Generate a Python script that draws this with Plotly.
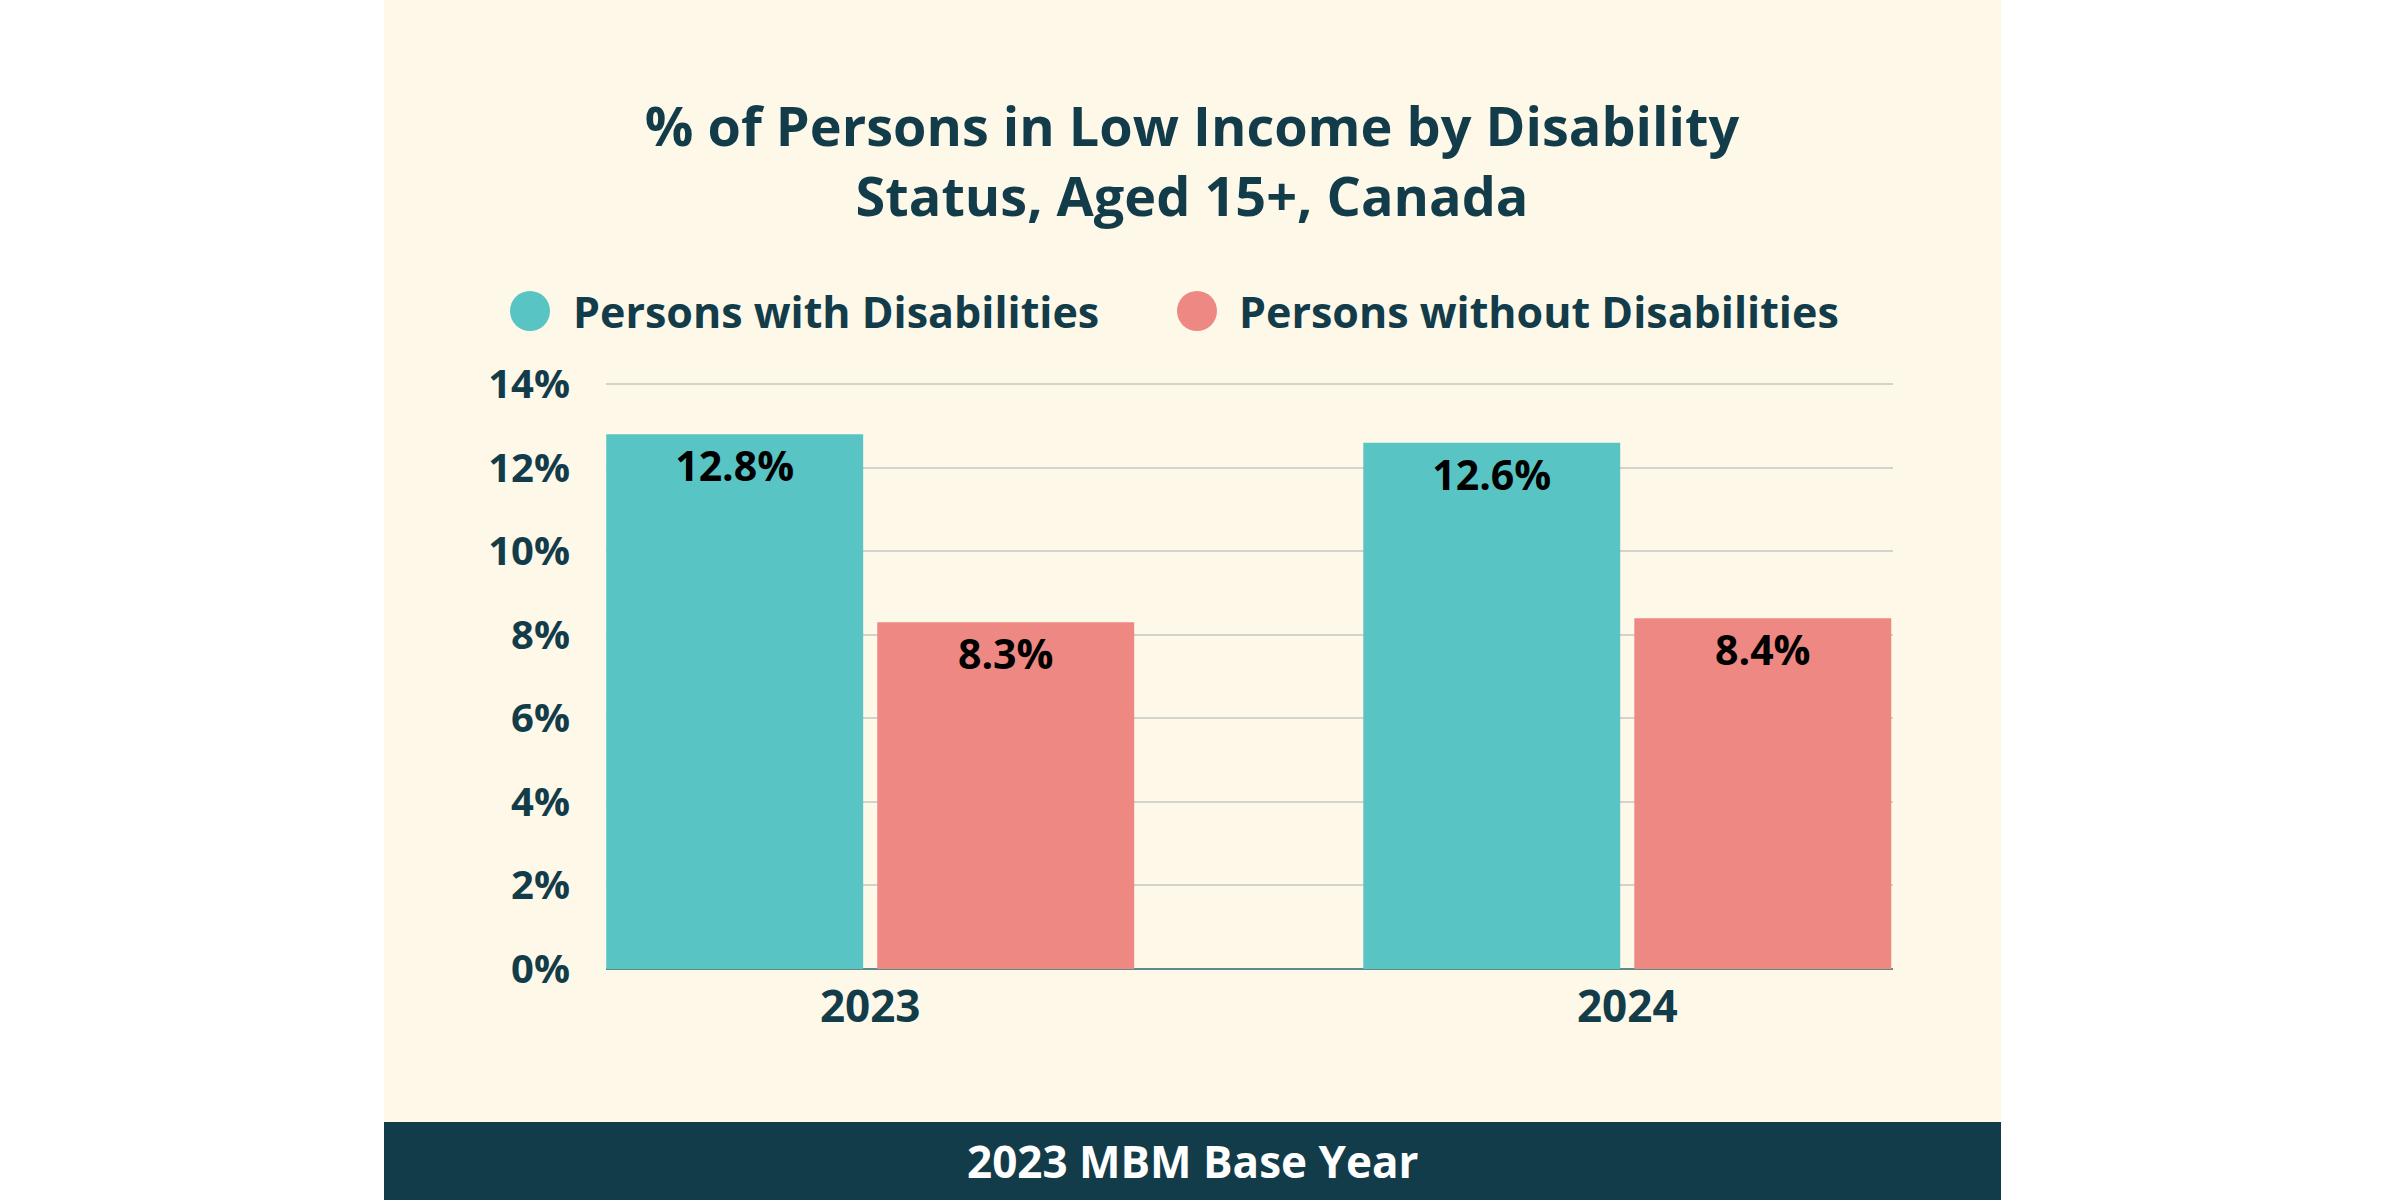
import plotly.graph_objects as go

# Daten
years = ["2023", "2024"]
with_dis = [12.8, 12.6]
without_dis = [8.3, 8.4]
series_names = ["Persons with Disabilities", "Persons without Disabilities"]
y_ticks = [0, 2, 4, 6, 8, 10, 12, 14]
y_ticktext = [f"{v}%" for v in y_ticks]
title_lines = ["% of Persons in Low Income by Disability", "Status, Aged 15+, Canada"]
footer = "2023 MBM Base Year"

# Farben
teal = "#58C4C4"
coral = "#EE8882"
dark = "#133C4A"
cream = "#FEF8E8"
font_family = "Open Sans"

W, H = 2400, 1200

def px_x(x):
    return x / W

def px_y(y):
    return 1 - y / H

fig = go.Figure()
for name, vals, col in [(series_names[0], with_dis, teal), (series_names[1], without_dis, coral)]:
    fig.add_trace(go.Bar(
        x=years,
        y=vals,
        name=name,
        marker=dict(color=col, line=dict(width=0)),
        text=[f"{v:.1f}%" for v in vals],
        textposition="inside",
        insidetextanchor="end",
        textangle=0,
        textfont=dict(family=font_family, size=41, color="black", weight="bold"),
        showlegend=False,
        hoverinfo="x+y",
    ))

shapes = [
    # heller Hintergrund
    dict(type="rect", xref="paper", yref="paper", x0=px_x(384), x1=px_x(2001),
         y0=px_y(1122), y1=1, fillcolor=cream, line=dict(width=0), layer="below"),
    # Fusszeile
    dict(type="rect", xref="paper", yref="paper", x0=px_x(384), x1=px_x(2001),
         y0=0, y1=px_y(1122), fillcolor=dark, line=dict(width=0), layer="below"),
]

annotations = [
    dict(text=footer, xref="paper", yref="paper", x=px_x(1192), y=px_y(1161),
         xanchor="center", yanchor="middle", showarrow=False,
         font=dict(family=font_family, size=44, color="white", weight="bold")),
]

# Legende (Kreise + Text)
legend_items = [(530, 571, teal, series_names[0]), (1197, 1237, coral, series_names[1])]
for cx, tx, col, name in legend_items:
    r = 20
    shapes.append(dict(type="circle", xref="paper", yref="paper",
                       x0=px_x(cx - r), x1=px_x(cx + r), y0=px_y(311 + r), y1=px_y(311 - r),
                       fillcolor=col, line=dict(width=0)))
    annotations.append(dict(text=name, xref="paper", yref="paper", x=px_x(tx), y=px_y(311),
                            xanchor="left", yanchor="middle", showarrow=False,
                            font=dict(family=font_family, size=43, color=dark, weight="bold")))

fig.update_layout(
    width=W, height=H,
    paper_bgcolor="white",
    plot_bgcolor="rgba(0,0,0,0)",
    margin=dict(l=0, r=0, t=0, b=0),
    barmode="group",
    bargap=0.284,
    bargroupgap=0.052,
    title=dict(
        text="<br>".join(title_lines),
        x=px_x(1192), xanchor="center", y=px_y(146), yanchor="middle",
        font=dict(family=font_family, size=54, color=dark, weight="bold"),
    ),
    xaxis=dict(
        domain=[px_x(606), px_x(1893)],
        range=[-0.349, 1.351],
        showgrid=False,
        tickfont=dict(family=font_family, size=44, color=dark, weight="bold"),
        ticks="",
        ticklabelstandoff=8,
        automargin=False,
    ),
    yaxis=dict(
        domain=[px_y(969), px_y(383)],
        range=[0, 14.03],
        tickvals=y_ticks,
        ticktext=y_ticktext,
        showgrid=True,
        gridcolor="#D2D3CA",
        gridwidth=2,
        zeroline=True,
        zerolinecolor="#5E8A8C",
        zerolinewidth=2,
        tickfont=dict(family=font_family, size=40, color=dark, weight="bold"),
        ticks="",
        ticklabelstandoff=35,
        automargin=False,
    ),
    shapes=shapes,
    annotations=annotations,
)

fig.write_html("out.html", config={"displayModeBar": False},
               post_script="document.body.style.margin='0px';")
